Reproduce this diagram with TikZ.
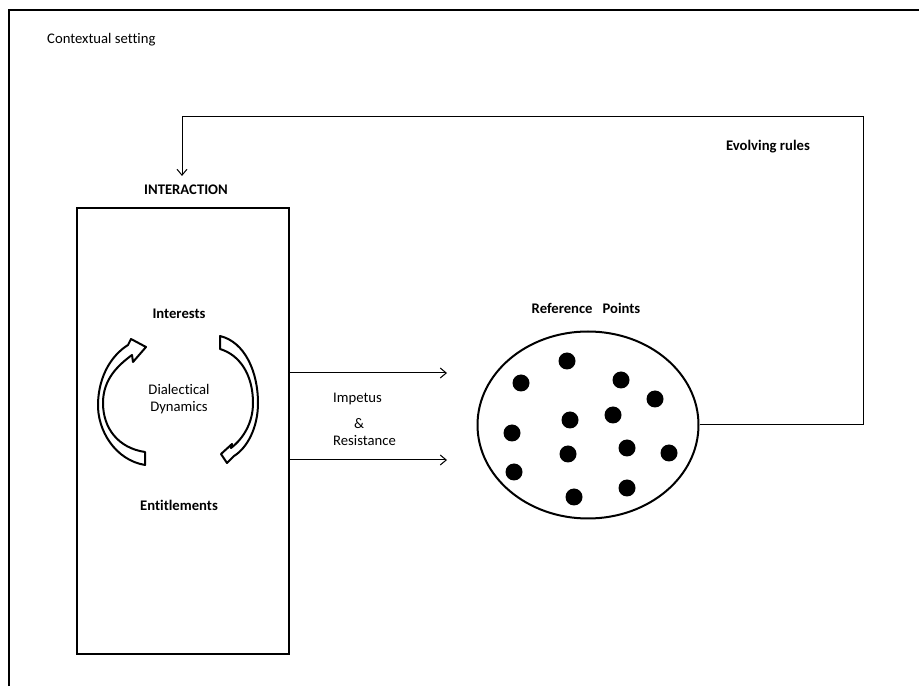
\documentclass[tikz,border=0pt]{standalone}
\usepackage{fontspec}
\setmainfont{Carlito}[Ligatures=NoCommon]
\usetikzlibrary{
  arrows.meta,
  positioning,
  shapes.geometric
}
\tikzset{
%
  % For normal lines.
  line/.style={
    line width=2pt},
%
  % For thin lines.
  thin line/.style={
    line width=1pt},
%
  % For the arrows between the parts.
  flow/.style={
    thin line,
    -{Straight Barb[length=6pt,
                    width=10pt]}},
%
  % For plain text.
  plain/.style={
    font=\fontsize{14.67}{17.5}\selectfont,
    inner sep=0pt},
%
  % For bold headings.
  heading/.style={
    plain,
    font=\fontsize{14.67}{17.5}\selectfont\bfseries},
%
  % For the curved block arrows.
  block arrow/.style={
    line,
    fill=white,
    line join=round},
%
  % For the reference points.
  dot/.style={
    circle,
    fill,
    inner sep=0pt,
    minimum size=17pt}
}

\begin{document}
\begin{tikzpicture}[x=1pt,y=1pt]
  \useasboundingbox (0,0) rectangle (919,686);
  \draw[line] (9,0) -- (9,676) -- (919,676);
  \node[plain, anchor=west] (C) at (47,646) {Contextual setting};

  \node[line, draw, minimum width=212pt, minimum height=445pt,
        inner sep=0pt] (I) at (183,255) {};
  \node[heading] (IT) at (186,496) {INTERACTION};
  \node[heading] (IN) at (179,372) {Interests};
  \node[heading] (EN) at (179,181) {Entitlements};
  \node[plain, align=center] (D) at (179,287) {Dialectical\\Dynamics};

  \draw[block arrow] (145,221) .. controls (115,226) and (97,256) .. (98,283)
    .. controls (99,311) and (112,331) .. (128,341)
    -- (131,347) -- (146,339) -- (133,324) -- (132,331)
    .. controls (117,320) and (103,306) .. (103,283)
    .. controls (103,258) and (118,238) .. (145,234) -- cycle;
  \draw[block arrow] (220,350) .. controls (245,344) and (258,314) .. (258,283)
    .. controls (258,258) and (247,238) .. (234,230)
    -- (227,223) -- (221,232) -- (232,242) -- (231,238)
    .. controls (244,248) and (253,264) .. (253,283)
    .. controls (253,311) and (240,331) .. (220,337) -- cycle;

  \node[line, draw, ellipse, minimum width=221pt, minimum height=187pt,
        inner sep=0pt] (RP) at (588,261) {};
  \node[heading] (RT) at (586,378) {Reference\ \ \ Points};
  \foreach \x/\y [count=\i] in {567/325, 521/303, 621/306, 655/287,
      570/266, 613/271, 512/253, 568/232, 627/238, 669/233,
      514/214, 574/189, 627/198}
    \node[dot] (P\i) at (\x,\y) {};

  \coordinate (T1) at (447,313);
  \coordinate (T2) at (447,226);
  \draw[flow] (I.east |- T1) -- (T1);
  \draw[flow] (I.east |- T2) -- (T2);
  \node[plain, anchor=base west] (IP) at (333,283) {Impetus};
  \node[plain, anchor=base] (A) at (359,257) {\&};
  \node[plain, anchor=base west] (R) at (333,240) {Resistance};

  \coordinate (FR) at (863,569);
  \coordinate (FL) at (182,569);
  \coordinate (FE) at (182,510);
  \draw[flow] (RP.east) -- (RP.east -| FR) -- (FR) -- (FL) -- (FE);
  \node[heading] (ER) at (768,539) {Evolving rules};
\end{tikzpicture}
\end{document}
